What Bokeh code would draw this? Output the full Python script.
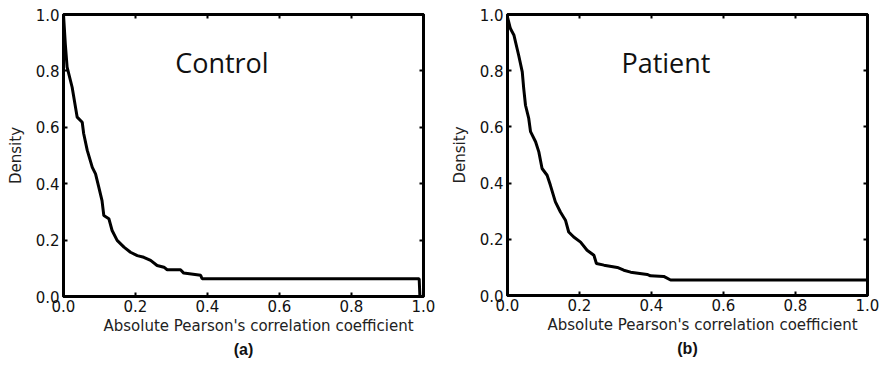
from bokeh.plotting import figure
from bokeh.models import Range1d, LinearAxis, Title, Label, FixedTicker, PrintfTickFormatter
from bokeh.layouts import row
from bokeh.embed import file_html
from bokeh.resources import INLINE

# ---- data ----
control_x = [0.0, 0.005, 0.01, 0.024, 0.038, 0.052, 0.056, 0.066, 0.08, 0.089, 0.098,
             0.107, 0.112, 0.126, 0.135, 0.149, 0.168, 0.186, 0.205, 0.223, 0.242,
             0.26, 0.279, 0.288, 0.325, 0.334, 0.381, 0.385, 0.6, 0.8, 0.988, 0.99, 1.0]
control_y = [1.0, 0.896, 0.813, 0.742, 0.636, 0.618, 0.578, 0.518, 0.458, 0.435, 0.388,
             0.34, 0.287, 0.276, 0.234, 0.199, 0.175, 0.157, 0.145, 0.139, 0.128,
             0.11, 0.104, 0.095, 0.095, 0.083, 0.075, 0.063, 0.063, 0.063, 0.063, 0.0, 0.0]

patient_x = [0.0, 0.008, 0.018, 0.031, 0.041, 0.045, 0.05, 0.059, 0.064, 0.078, 0.087,
             0.096, 0.11, 0.119, 0.133, 0.147, 0.161, 0.17, 0.184, 0.203, 0.221, 0.24,
             0.247, 0.268, 0.305, 0.323, 0.342, 0.388, 0.397, 0.434, 0.453, 0.7, 1.0]
patient_y = [0.991, 0.95, 0.926, 0.855, 0.796, 0.737, 0.677, 0.63, 0.583, 0.547, 0.511,
             0.452, 0.428, 0.393, 0.333, 0.297, 0.268, 0.226, 0.208, 0.19, 0.161, 0.143,
             0.114, 0.108, 0.1, 0.09, 0.083, 0.075, 0.07, 0.068, 0.055, 0.055, 0.055]

tick_values = [0.0, 0.2, 0.4, 0.6, 0.8, 1.0]
x_label = "Absolute Pearson's correlation coefficient"
y_label = "Density"

FONT = "DejaVu Sans"


def style_axis(ax):
    ax.ticker = FixedTicker(ticks=tick_values)
    ax.minor_tick_line_color = None
    ax.major_tick_in = 4
    ax.major_tick_out = 0
    ax.major_tick_line_width = 2
    ax.major_tick_line_color = "black"
    ax.axis_line_color = "black"
    ax.axis_line_width = 3


def make_panel(xs, ys, name, letter, border_left, border_right, border_top, frame_h):
    p = figure(frame_width=360, frame_height=frame_h,
               x_range=Range1d(0, 1), y_range=Range1d(0, 1),
               output_backend="svg", toolbar_location=None,
               min_border_left=border_left, min_border_right=border_right,
               min_border_top=border_top, min_border_bottom=366 - border_top - frame_h)
    p.xgrid.visible = False
    p.ygrid.visible = False
    p.outline_line_color = "black"
    p.outline_line_width = 3
    p.background_fill_color = "white"
    p.border_fill_color = "white"

    xb = p.below[0]
    yl = p.left[0]
    for ax in (xb, yl):
        style_axis(ax)
        ax.formatter = PrintfTickFormatter(format="%.1f")
        ax.major_label_text_font = FONT
        ax.major_label_text_font_size = "15px"
        ax.major_label_text_color = "#111111"
        ax.axis_label_text_font = FONT
        ax.axis_label_text_font_size = "15px"
        ax.axis_label_text_font_style = "normal"
        ax.axis_label_text_color = "#222222"
    yl.axis_label = y_label
    xb.major_label_standoff = 3
    yl.major_label_standoff = 4
    yl.axis_label_standoff = 8

    # extra axes for inside ticks on top and right (no labels)
    for side in ("above", "right"):
        ax = LinearAxis(major_label_overrides={v: "" for v in tick_values})
        style_axis(ax)
        ax.major_label_standoff = 0
        p.add_layout(ax, side)

    p.line(xs, ys, line_color="black", line_width=3)

    p.add_layout(Label(x=0.44, y=0.83, text=name, text_align="center",
                       text_baseline="middle", text_font="Open Sans",
                       text_font_size="27px", text_color="#111111"))

    # x-axis label, offset to the right like the reference
    p.add_layout(Title(text=x_label, align="left", offset=40, text_font=FONT,
                       text_font_size="15px", text_font_style="normal",
                       text_color="#222222", standoff=0), "below")
    p.add_layout(Title(text=letter, align="center", text_font="Liberation Sans",
                       text_font_size="16px", text_font_style="bold",
                       text_color="#111111", standoff=8), "below")
    return p


p1 = make_panel(control_x, control_y, "Control", "(a)", 63, 17, 12, 282)
p2 = make_panel(patient_x, patient_y, "Patient", "(b)", 67, 14, 14, 281)

layout = row(p1, p2)
open("out.html", "w").write(file_html(layout, INLINE))
